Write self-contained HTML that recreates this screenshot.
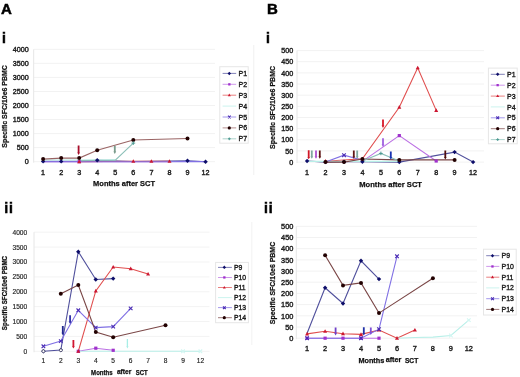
<!DOCTYPE html>
<html><head><meta charset="utf-8"><style>
html,body{margin:0;padding:0;background:#fff;}
svg .tk{stroke:#222;stroke-width:0.4px;}
svg{display:block;font-family:"Liberation Sans", sans-serif;will-change:transform;-webkit-font-smoothing:antialiased;}
</style></head><body>
<svg width="520" height="377" viewBox="0 0 520 377">
<defs><filter id="b" x="0" y="0" width="1" height="1"><feGaussianBlur stdDeviation="0.32"/></filter></defs>
<rect width="520" height="377" fill="#fff"/>
<g filter="url(#b)">
<rect width="520" height="377" fill="#fff"/>
<text x="1.0" y="13.7" font-size="15" font-weight="bold" fill="#000" stroke="#000" stroke-width="0.5">A</text>
<text x="267.0" y="14.3" font-size="15" font-weight="bold" fill="#000" stroke="#000" stroke-width="0.5">B</text>
<text x="1.9" y="42.6" font-size="14" font-weight="bold" fill="#000" stroke="#000" stroke-width="0.5">i</text>
<text x="266.0" y="42.6" font-size="14" font-weight="bold" fill="#000" stroke="#000" stroke-width="0.5">i</text>
<text x="4.2" y="213.4" font-size="14" font-weight="bold" fill="#000" stroke="#000" stroke-width="0.5" letter-spacing="0.8">ii</text>
<text x="264.0" y="213.3" font-size="14" font-weight="bold" fill="#000" stroke="#000" stroke-width="0.5" letter-spacing="0.8">ii</text>
<line x1="253.8" y1="45" x2="253.8" y2="175" stroke="#f0f0f0" stroke-width="1"/>
<line x1="251.8" y1="222" x2="251.8" y2="345" stroke="#f2f2f2" stroke-width="1"/>
<line x1="33.7" y1="161.7" x2="215.0" y2="161.7" stroke="#f2f2f2" stroke-width="1"/>
<line x1="33.7" y1="147.6" x2="215.0" y2="147.6" stroke="#f2f2f2" stroke-width="1"/>
<line x1="33.7" y1="133.6" x2="215.0" y2="133.6" stroke="#f2f2f2" stroke-width="1"/>
<line x1="33.7" y1="119.5" x2="215.0" y2="119.5" stroke="#f2f2f2" stroke-width="1"/>
<line x1="33.7" y1="105.5" x2="215.0" y2="105.5" stroke="#f2f2f2" stroke-width="1"/>
<line x1="33.7" y1="91.5" x2="215.0" y2="91.5" stroke="#f2f2f2" stroke-width="1"/>
<line x1="33.7" y1="77.4" x2="215.0" y2="77.4" stroke="#f2f2f2" stroke-width="1"/>
<line x1="33.7" y1="63.3" x2="215.0" y2="63.3" stroke="#f2f2f2" stroke-width="1"/>
<line x1="33.7" y1="49.3" x2="215.0" y2="49.3" stroke="#f2f2f2" stroke-width="1"/>
<line x1="33.7" y1="49.3" x2="33.7" y2="162.7" stroke="#e6e6e6" stroke-width="1"/>
<text x="28.8" y="164.3" font-size="7.2" text-anchor="end" fill="#1a1a1a" class="tk" style="stroke-width:0.4px">0</text>
<text x="28.8" y="150.2" font-size="7.2" text-anchor="end" fill="#1a1a1a" class="tk" style="stroke-width:0.4px">500</text>
<text x="28.8" y="136.2" font-size="7.2" text-anchor="end" fill="#1a1a1a" class="tk" style="stroke-width:0.4px">1000</text>
<text x="28.8" y="122.1" font-size="7.2" text-anchor="end" fill="#1a1a1a" class="tk" style="stroke-width:0.4px">1500</text>
<text x="28.8" y="108.1" font-size="7.2" text-anchor="end" fill="#1a1a1a" class="tk" style="stroke-width:0.4px">2000</text>
<text x="28.8" y="94.0" font-size="7.2" text-anchor="end" fill="#1a1a1a" class="tk" style="stroke-width:0.4px">2500</text>
<text x="28.8" y="80.0" font-size="7.2" text-anchor="end" fill="#1a1a1a" class="tk" style="stroke-width:0.4px">3000</text>
<text x="28.8" y="65.9" font-size="7.2" text-anchor="end" fill="#1a1a1a" class="tk" style="stroke-width:0.4px">3500</text>
<text x="28.8" y="51.9" font-size="7.2" text-anchor="end" fill="#1a1a1a" class="tk" style="stroke-width:0.4px">4000</text>
<text x="43.1" y="174.6" font-size="7.2" text-anchor="middle" fill="#1a1a1a" class="tk" style="stroke-width:0.4px">1</text>
<text x="61.2" y="174.6" font-size="7.2" text-anchor="middle" fill="#1a1a1a" class="tk" style="stroke-width:0.4px">2</text>
<text x="79.2" y="174.6" font-size="7.2" text-anchor="middle" fill="#1a1a1a" class="tk" style="stroke-width:0.4px">3</text>
<text x="97.2" y="174.6" font-size="7.2" text-anchor="middle" fill="#1a1a1a" class="tk" style="stroke-width:0.4px">4</text>
<text x="115.3" y="174.6" font-size="7.2" text-anchor="middle" fill="#1a1a1a" class="tk" style="stroke-width:0.4px">5</text>
<text x="133.3" y="174.6" font-size="7.2" text-anchor="middle" fill="#1a1a1a" class="tk" style="stroke-width:0.4px">6</text>
<text x="151.4" y="174.6" font-size="7.2" text-anchor="middle" fill="#1a1a1a" class="tk" style="stroke-width:0.4px">7</text>
<text x="169.5" y="174.6" font-size="7.2" text-anchor="middle" fill="#1a1a1a" class="tk" style="stroke-width:0.4px">8</text>
<text x="187.5" y="174.6" font-size="7.2" text-anchor="middle" fill="#1a1a1a" class="tk" style="stroke-width:0.4px">9</text>
<text x="205.6" y="174.6" font-size="7.2" text-anchor="middle" fill="#1a1a1a" class="tk" style="stroke-width:0.4px">12</text>
<text x="93.1" y="186.4" font-size="7.6" font-weight="bold" fill="#111" stroke="#111" stroke-width="0.25" textLength="61.9" lengthAdjust="spacingAndGlyphs">Months after SCT</text>
<text transform="translate(7.4,106.4) rotate(-90)" font-size="7.4" font-weight="bold" text-anchor="middle" fill="#111" stroke="#111" stroke-width="0.25" textLength="82.6" lengthAdjust="spacingAndGlyphs">Specific SFC/10e6 PBMC</text>
<path d="M43.1 161.4 L61.2 161.4 L79.2 161.4 L97.2 160.2 L133.3 161.5 L187.5 160.8 L205.6 161.7" stroke="#50509c" stroke-width="1.1" fill="none"/>
<path d="M43.1 161.7 L61.2 161.7 L79.2 161.7 L97.2 161.7 L133.3 161.7 L151.4 161.7 L169.5 161.7" stroke="#bc70e4" stroke-width="1.1" fill="none"/>
<path d="M79.2 161.7 L133.3 161.3 L151.4 161.3 L169.5 161.3" stroke="#e04e4e" stroke-width="1.1" fill="none"/>
<path d="M43.1 160.0 L61.2 160.0 L79.2 160.0 L97.2 160.0 L115.3 159.7" stroke="#b8efe8" stroke-width="1.1" fill="none"/>
<path d="M43.1 161.7 L61.2 161.7 L79.2 161.7 L97.2 161.7 L115.3 161.7 L133.3 161.7 L151.4 161.7 L169.5 161.7 L187.5 161.4 L205.6 161.6" stroke="#8070e4" stroke-width="1.1" fill="none"/>
<path d="M43.1 159.1 L61.2 158.1 L79.2 158.1 L97.2 150.3 L133.3 140.0 L187.5 138.5" stroke="#9a6464" stroke-width="1.1" fill="none"/>
<path d="M79.2 160.6 L97.2 160.2 L115.3 160.2 L133.3 143.1" stroke="#8cc0b8" stroke-width="1.1" fill="none"/>
<path d="M43.1 159.2L45.3 161.4L43.1 163.6L40.9 161.4Z" fill="#10106a"/>
<path d="M61.2 159.2L63.4 161.4L61.2 163.6L59.0 161.4Z" fill="#10106a"/>
<path d="M97.2 158.0L99.5 160.2L97.2 162.4L95.0 160.2Z" fill="#10106a"/>
<path d="M187.5 158.6L189.7 160.8L187.5 163.0L185.3 160.8Z" fill="#10106a"/>
<path d="M205.6 159.5L207.8 161.7L205.6 163.9L203.3 161.7Z" fill="#10106a"/>
<rect x="77.6" y="160.1" width="3.2" height="3.2" fill="#a030cc"/>
<path d="M79.2 159.6L81.2 163.2L77.2 163.2Z" fill="#cc1830"/>
<path d="M133.3 159.2L135.3 162.8L131.3 162.8Z" fill="#cc1830"/>
<path d="M151.4 159.2L153.4 162.8L149.4 162.8Z" fill="#cc1830"/>
<path d="M169.5 159.2L171.5 162.8L167.5 162.8Z" fill="#cc1830"/>
<circle cx="43.1" cy="159.1" r="2.0" fill="#240404"/>
<circle cx="61.2" cy="158.1" r="2.0" fill="#240404"/>
<circle cx="79.2" cy="158.1" r="2.0" fill="#240404"/>
<circle cx="97.2" cy="150.3" r="2.0" fill="#240404"/>
<circle cx="133.3" cy="140.0" r="2.0" fill="#240404"/>
<circle cx="187.5" cy="138.5" r="2.0" fill="#240404"/>
<path d="M131.5 143.1L135.2 143.1M133.3 141.3L133.3 144.9" stroke="#4a9890" stroke-width="1" fill="none"/>
<path d="M77.70 145.60L79.50 145.60L79.50 152.60L80.00 152.60L78.60 155.00L77.20 152.60L77.70 152.60Z" fill="#a8102c"/>
<path d="M113.90 145.80L115.70 145.80L115.70 151.60L116.20 151.60L114.80 154.00L113.40 151.60L113.90 151.60Z" fill="#7a9c8c"/>
<rect x="219.8" y="66.7" width="28.4" height="76.5" fill="#fff" stroke="#e6e6e6" stroke-width="1"/>
<line x1="222.6" y1="73.4" x2="236.2" y2="73.4" stroke="#50509c" stroke-width="0.9" stroke-opacity="0.8"/>
<path d="M229.3 71.7L231.1 73.4L229.3 75.2L227.6 73.4Z" fill="#10106a"/>
<text x="238.6" y="75.9" font-size="7.0" font-weight="normal" fill="#1a1a1a" stroke="#1a1a1a" stroke-width="0.35">P1</text>
<line x1="222.6" y1="84.3" x2="236.2" y2="84.3" stroke="#bc70e4" stroke-width="0.9" stroke-opacity="0.8"/>
<rect x="228.2" y="83.2" width="2.3" height="2.3" fill="#a030cc"/>
<text x="238.6" y="86.8" font-size="7.0" font-weight="normal" fill="#1a1a1a" stroke="#1a1a1a" stroke-width="0.35">P2</text>
<line x1="222.6" y1="95.2" x2="236.2" y2="95.2" stroke="#e04e4e" stroke-width="0.9" stroke-opacity="0.8"/>
<path d="M229.3 93.6L230.8 96.2L227.8 96.2Z" fill="#cc1830"/>
<text x="238.6" y="97.7" font-size="7.0" font-weight="normal" fill="#1a1a1a" stroke="#1a1a1a" stroke-width="0.35">P3</text>
<line x1="222.6" y1="106.1" x2="236.2" y2="106.1" stroke="#b8efe8" stroke-width="0.9" stroke-opacity="0.8"/>
<text x="238.6" y="108.6" font-size="7.0" font-weight="normal" fill="#1a1a1a" stroke="#1a1a1a" stroke-width="0.35">P4</text>
<line x1="222.6" y1="117.0" x2="236.2" y2="117.0" stroke="#8070e4" stroke-width="0.9" stroke-opacity="0.8"/>
<path d="M228.0 115.7L230.7 118.3M230.7 115.7L228.0 118.3" stroke="#4a2cb4" stroke-width="1.1" fill="none"/>
<text x="238.6" y="119.5" font-size="7.0" font-weight="normal" fill="#1a1a1a" stroke="#1a1a1a" stroke-width="0.35">P5</text>
<line x1="222.6" y1="127.9" x2="236.2" y2="127.9" stroke="#9a6464" stroke-width="0.9" stroke-opacity="0.8"/>
<circle cx="229.3" cy="127.9" r="1.6" fill="#240404"/>
<text x="238.6" y="130.4" font-size="7.0" font-weight="normal" fill="#1a1a1a" stroke="#1a1a1a" stroke-width="0.35">P6</text>
<line x1="222.6" y1="138.8" x2="236.2" y2="138.8" stroke="#8cc0b8" stroke-width="0.9" stroke-opacity="0.8"/>
<path d="M228.0 138.8L230.7 138.8M229.3 137.5L229.3 140.2" stroke="#4a9890" stroke-width="1" fill="none"/>
<text x="238.6" y="141.3" font-size="7.0" font-weight="normal" fill="#1a1a1a" stroke="#1a1a1a" stroke-width="0.35">P7</text>
<line x1="297.0" y1="162.1" x2="484.0" y2="162.1" stroke="#f2f2f2" stroke-width="1"/>
<line x1="297.0" y1="150.9" x2="484.0" y2="150.9" stroke="#f2f2f2" stroke-width="1"/>
<line x1="297.0" y1="139.8" x2="484.0" y2="139.8" stroke="#f2f2f2" stroke-width="1"/>
<line x1="297.0" y1="128.6" x2="484.0" y2="128.6" stroke="#f2f2f2" stroke-width="1"/>
<line x1="297.0" y1="117.5" x2="484.0" y2="117.5" stroke="#f2f2f2" stroke-width="1"/>
<line x1="297.0" y1="106.3" x2="484.0" y2="106.3" stroke="#f2f2f2" stroke-width="1"/>
<line x1="297.0" y1="95.2" x2="484.0" y2="95.2" stroke="#f2f2f2" stroke-width="1"/>
<line x1="297.0" y1="84.0" x2="484.0" y2="84.0" stroke="#f2f2f2" stroke-width="1"/>
<line x1="297.0" y1="72.9" x2="484.0" y2="72.9" stroke="#f2f2f2" stroke-width="1"/>
<line x1="297.0" y1="61.7" x2="484.0" y2="61.7" stroke="#f2f2f2" stroke-width="1"/>
<line x1="297.0" y1="50.6" x2="484.0" y2="50.6" stroke="#f2f2f2" stroke-width="1"/>
<line x1="297.0" y1="50.6" x2="297.0" y2="163.1" stroke="#e6e6e6" stroke-width="1"/>
<text x="293.2" y="164.7" font-size="7.2" text-anchor="end" fill="#1a1a1a" class="tk" style="stroke-width:0.4px">0</text>
<text x="293.2" y="153.5" font-size="7.2" text-anchor="end" fill="#1a1a1a" class="tk" style="stroke-width:0.4px">50</text>
<text x="293.2" y="142.4" font-size="7.2" text-anchor="end" fill="#1a1a1a" class="tk" style="stroke-width:0.4px">100</text>
<text x="293.2" y="131.2" font-size="7.2" text-anchor="end" fill="#1a1a1a" class="tk" style="stroke-width:0.4px">150</text>
<text x="293.2" y="120.1" font-size="7.2" text-anchor="end" fill="#1a1a1a" class="tk" style="stroke-width:0.4px">200</text>
<text x="293.2" y="108.9" font-size="7.2" text-anchor="end" fill="#1a1a1a" class="tk" style="stroke-width:0.4px">250</text>
<text x="293.2" y="97.8" font-size="7.2" text-anchor="end" fill="#1a1a1a" class="tk" style="stroke-width:0.4px">300</text>
<text x="293.2" y="86.6" font-size="7.2" text-anchor="end" fill="#1a1a1a" class="tk" style="stroke-width:0.4px">350</text>
<text x="293.2" y="75.5" font-size="7.2" text-anchor="end" fill="#1a1a1a" class="tk" style="stroke-width:0.4px">400</text>
<text x="293.2" y="64.3" font-size="7.2" text-anchor="end" fill="#1a1a1a" class="tk" style="stroke-width:0.4px">450</text>
<text x="293.2" y="53.2" font-size="7.2" text-anchor="end" fill="#1a1a1a" class="tk" style="stroke-width:0.4px">500</text>
<text x="307.1" y="174.7" font-size="7.2" text-anchor="middle" fill="#1a1a1a" class="tk" style="stroke-width:0.4px">1</text>
<text x="325.5" y="174.7" font-size="7.2" text-anchor="middle" fill="#1a1a1a" class="tk" style="stroke-width:0.4px">2</text>
<text x="344.0" y="174.7" font-size="7.2" text-anchor="middle" fill="#1a1a1a" class="tk" style="stroke-width:0.4px">3</text>
<text x="362.4" y="174.7" font-size="7.2" text-anchor="middle" fill="#1a1a1a" class="tk" style="stroke-width:0.4px">4</text>
<text x="380.9" y="174.7" font-size="7.2" text-anchor="middle" fill="#1a1a1a" class="tk" style="stroke-width:0.4px">5</text>
<text x="399.3" y="174.7" font-size="7.2" text-anchor="middle" fill="#1a1a1a" class="tk" style="stroke-width:0.4px">6</text>
<text x="417.7" y="174.7" font-size="7.2" text-anchor="middle" fill="#1a1a1a" class="tk" style="stroke-width:0.4px">7</text>
<text x="436.2" y="174.7" font-size="7.2" text-anchor="middle" fill="#1a1a1a" class="tk" style="stroke-width:0.4px">8</text>
<text x="454.6" y="174.7" font-size="7.2" text-anchor="middle" fill="#1a1a1a" class="tk" style="stroke-width:0.4px">9</text>
<text x="473.1" y="174.7" font-size="7.2" text-anchor="middle" fill="#1a1a1a" class="tk" style="stroke-width:0.4px">12</text>
<text x="359.3" y="187.0" font-size="7.5" font-weight="bold" fill="#111" stroke="#111" stroke-width="0.25" textLength="62.7" lengthAdjust="spacingAndGlyphs">Months after SCT</text>
<text transform="translate(275.0,107.4) rotate(-90)" font-size="7.4" font-weight="bold" text-anchor="middle" fill="#111" stroke="#111" stroke-width="0.25" textLength="83" lengthAdjust="spacingAndGlyphs">Specific SFC/10e6 PBMC</text>
<path d="M307.1 161.0 L325.5 162.1 L344.0 161.7 L362.4 161.7 L399.3 162.1 L454.6 152.1 L473.1 162.1" stroke="#50509c" stroke-width="1.1" fill="none"/>
<path d="M362.4 161.4 L399.3 135.6 L436.2 161.0" stroke="#bc70e4" stroke-width="1.1" fill="none"/>
<path d="M325.5 161.2 L362.4 158.8 L399.3 107.2 L417.7 67.8 L436.2 110.4" stroke="#e04e4e" stroke-width="1.1" fill="none"/>
<path d="M307.1 161.4 L325.5 161.4 L344.0 161.4 L362.4 161.4 L380.9 161.4 L399.3 161.4" stroke="#b8efe8" stroke-width="1.1" fill="none"/>
<path d="M325.5 162.1 L344.0 155.2 L362.4 160.3" stroke="#8070e4" stroke-width="1.1" fill="none"/>
<path d="M325.5 162.1 L344.0 162.1 L362.4 159.0 L399.3 159.9 L454.6 159.9" stroke="#7a4646" stroke-width="1.1" fill="none"/>
<path d="M362.4 161.0 L380.9 153.4 L399.3 161.0" stroke="#8cc0b8" stroke-width="1.1" fill="none"/>
<path d="M307.1 158.8L309.3 161.0L307.1 163.2L304.9 161.0Z" fill="#10106a"/>
<path d="M325.5 159.9L327.7 162.1L325.5 164.3L323.3 162.1Z" fill="#10106a"/>
<path d="M344.0 159.5L346.2 161.7L344.0 163.9L341.8 161.7Z" fill="#10106a"/>
<path d="M362.4 159.5L364.6 161.7L362.4 163.9L360.2 161.7Z" fill="#10106a"/>
<path d="M399.3 159.9L401.5 162.1L399.3 164.3L397.1 162.1Z" fill="#10106a"/>
<path d="M454.6 149.9L456.8 152.1L454.6 154.3L452.4 152.1Z" fill="#10106a"/>
<path d="M473.1 159.9L475.3 162.1L473.1 164.3L470.9 162.1Z" fill="#10106a"/>
<rect x="397.7" y="134.0" width="3.2" height="3.2" fill="#a030cc"/>
<rect x="434.6" y="159.4" width="3.2" height="3.2" fill="#a030cc"/>
<path d="M325.5 159.1L327.5 162.7L323.5 162.7Z" fill="#cc1830"/>
<path d="M362.4 156.7L364.4 160.3L360.4 160.3Z" fill="#cc1830"/>
<path d="M399.3 105.1L401.3 108.7L397.3 108.7Z" fill="#cc1830"/>
<path d="M417.7 65.7L419.7 69.3L415.7 69.3Z" fill="#cc1830"/>
<path d="M436.2 108.3L438.2 111.9L434.2 111.9Z" fill="#cc1830"/>
<path d="M342.2 153.4L345.8 157.0M345.8 153.4L342.2 157.0" stroke="#4a2cb4" stroke-width="1.1" fill="none"/>
<circle cx="325.5" cy="162.1" r="2.0" fill="#240404"/>
<circle cx="344.0" cy="162.1" r="2.0" fill="#240404"/>
<circle cx="362.4" cy="159.0" r="2.0" fill="#240404"/>
<circle cx="399.3" cy="159.9" r="2.0" fill="#240404"/>
<circle cx="454.6" cy="159.9" r="2.0" fill="#240404"/>
<path d="M379.1 153.4L382.7 153.4M380.9 151.6L380.9 155.2" stroke="#4a9890" stroke-width="1" fill="none"/>
<path d="M307.80 150.30L309.60 150.30L309.60 156.90L310.10 156.90L308.70 159.30L307.30 156.90L307.80 156.90Z" fill="#d01828"/>
<path d="M310.90 150.50L312.70 150.50L312.70 156.40L313.20 156.40L311.80 158.80L310.40 156.40L310.90 156.40Z" fill="#80a8a0"/>
<path d="M315.10 150.50L316.90 150.50L316.90 156.40L317.40 156.40L316.00 158.80L314.60 156.40L315.10 156.40Z" fill="#b050d0"/>
<path d="M318.90 150.50L320.70 150.50L320.70 156.40L321.20 156.40L319.80 158.80L318.40 156.40L318.90 156.40Z" fill="#601818"/>
<path d="M352.90 150.50L354.70 150.50L354.70 156.40L355.20 156.40L353.80 158.80L352.40 156.40L352.90 156.40Z" fill="#601818"/>
<path d="M356.30 150.50L358.10 150.50L358.10 156.40L358.60 156.40L357.20 158.80L355.80 156.40L356.30 156.40Z" fill="#80a8a0"/>
<path d="M382.10 119.40L383.90 119.40L383.90 125.60L384.40 125.60L383.00 128.00L381.60 125.60L382.10 125.60Z" fill="#d81828"/>
<path d="M382.10 138.20L383.90 138.20L383.90 144.60L384.40 144.60L383.00 147.00L381.60 144.60L382.10 144.60Z" fill="#a060e0"/>
<path d="M389.90 151.40L391.70 151.40L391.70 157.20L392.20 157.20L390.80 159.60L389.40 157.20L389.90 157.20Z" fill="#1830b0"/>
<path d="M444.40 150.50L446.20 150.50L446.20 157.00L446.70 157.00L445.30 159.40L443.90 157.00L444.40 157.00Z" fill="#501010"/>
<rect x="488.4" y="68.1" width="28.8" height="75.7" fill="#fff" stroke="#e6e6e6" stroke-width="1"/>
<line x1="490.8" y1="74.3" x2="504.8" y2="74.3" stroke="#50509c" stroke-width="0.9" stroke-opacity="0.8"/>
<path d="M497.7 72.5L499.4 74.3L497.7 76.0L495.9 74.3Z" fill="#10106a"/>
<text x="507.0" y="76.8" font-size="7.0" font-weight="normal" fill="#1a1a1a" stroke="#1a1a1a" stroke-width="0.35">P1</text>
<line x1="490.8" y1="85.2" x2="504.8" y2="85.2" stroke="#bc70e4" stroke-width="0.9" stroke-opacity="0.8"/>
<rect x="496.5" y="84.0" width="2.3" height="2.3" fill="#a030cc"/>
<text x="507.0" y="87.7" font-size="7.0" font-weight="normal" fill="#1a1a1a" stroke="#1a1a1a" stroke-width="0.35">P2</text>
<line x1="490.8" y1="96.1" x2="504.8" y2="96.1" stroke="#e04e4e" stroke-width="0.9" stroke-opacity="0.8"/>
<path d="M497.7 94.4L499.2 97.1L496.1 97.1Z" fill="#cc1830"/>
<text x="507.0" y="98.6" font-size="7.0" font-weight="normal" fill="#1a1a1a" stroke="#1a1a1a" stroke-width="0.35">P3</text>
<line x1="490.8" y1="106.9" x2="504.8" y2="106.9" stroke="#b8efe8" stroke-width="0.9" stroke-opacity="0.8"/>
<text x="507.0" y="109.5" font-size="7.0" font-weight="normal" fill="#1a1a1a" stroke="#1a1a1a" stroke-width="0.35">P4</text>
<line x1="490.8" y1="117.8" x2="504.8" y2="117.8" stroke="#8070e4" stroke-width="0.9" stroke-opacity="0.8"/>
<path d="M496.3 116.5L499.1 119.2M499.1 116.5L496.3 119.2" stroke="#4a2cb4" stroke-width="1.1" fill="none"/>
<text x="507.0" y="120.3" font-size="7.0" font-weight="normal" fill="#1a1a1a" stroke="#1a1a1a" stroke-width="0.35">P5</text>
<line x1="490.8" y1="128.7" x2="504.8" y2="128.7" stroke="#7a4646" stroke-width="0.9" stroke-opacity="0.8"/>
<circle cx="497.7" cy="128.7" r="1.6" fill="#240404"/>
<text x="507.0" y="131.2" font-size="7.0" font-weight="normal" fill="#1a1a1a" stroke="#1a1a1a" stroke-width="0.35">P6</text>
<line x1="490.8" y1="139.6" x2="504.8" y2="139.6" stroke="#8cc0b8" stroke-width="0.9" stroke-opacity="0.8"/>
<path d="M496.3 139.6L499.1 139.6M497.7 138.2L497.7 140.9" stroke="#4a9890" stroke-width="1" fill="none"/>
<text x="507.0" y="142.1" font-size="7.0" font-weight="normal" fill="#1a1a1a" stroke="#1a1a1a" stroke-width="0.35">P7</text>
<line x1="34.0" y1="351.3" x2="209.5" y2="351.3" stroke="#f3f3f3" stroke-width="1"/>
<line x1="34.0" y1="336.4" x2="209.5" y2="336.4" stroke="#f3f3f3" stroke-width="1"/>
<line x1="34.0" y1="321.5" x2="209.5" y2="321.5" stroke="#f3f3f3" stroke-width="1"/>
<line x1="34.0" y1="306.6" x2="209.5" y2="306.6" stroke="#f3f3f3" stroke-width="1"/>
<line x1="34.0" y1="291.8" x2="209.5" y2="291.8" stroke="#f3f3f3" stroke-width="1"/>
<line x1="34.0" y1="276.9" x2="209.5" y2="276.9" stroke="#f3f3f3" stroke-width="1"/>
<line x1="34.0" y1="262.0" x2="209.5" y2="262.0" stroke="#f3f3f3" stroke-width="1"/>
<line x1="34.0" y1="247.1" x2="209.5" y2="247.1" stroke="#f3f3f3" stroke-width="1"/>
<line x1="34.0" y1="232.2" x2="209.5" y2="232.2" stroke="#f3f3f3" stroke-width="1"/>
<line x1="34.0" y1="232.2" x2="34.0" y2="352.3" stroke="#e6e6e6" stroke-width="1"/>
<text x="27.2" y="353.7" font-size="6.6" text-anchor="end" fill="#1a1a1a" class="tk" style="stroke-width:0.15px">0</text>
<text x="27.2" y="338.8" font-size="6.6" text-anchor="end" fill="#1a1a1a" class="tk" style="stroke-width:0.15px">500</text>
<text x="27.2" y="323.9" font-size="6.6" text-anchor="end" fill="#1a1a1a" class="tk" style="stroke-width:0.15px">1000</text>
<text x="27.2" y="309.0" font-size="6.6" text-anchor="end" fill="#1a1a1a" class="tk" style="stroke-width:0.15px">1500</text>
<text x="27.2" y="294.1" font-size="6.6" text-anchor="end" fill="#1a1a1a" class="tk" style="stroke-width:0.15px">2000</text>
<text x="27.2" y="279.2" font-size="6.6" text-anchor="end" fill="#1a1a1a" class="tk" style="stroke-width:0.15px">2500</text>
<text x="27.2" y="264.4" font-size="6.6" text-anchor="end" fill="#1a1a1a" class="tk" style="stroke-width:0.15px">3000</text>
<text x="27.2" y="249.5" font-size="6.6" text-anchor="end" fill="#1a1a1a" class="tk" style="stroke-width:0.15px">3500</text>
<text x="27.2" y="234.6" font-size="6.6" text-anchor="end" fill="#1a1a1a" class="tk" style="stroke-width:0.15px">4000</text>
<text x="43.4" y="363.4" font-size="6.6" text-anchor="middle" fill="#1a1a1a" class="tk" style="stroke-width:0.15px">1</text>
<text x="60.8" y="363.4" font-size="6.6" text-anchor="middle" fill="#1a1a1a" class="tk" style="stroke-width:0.15px">2</text>
<text x="78.3" y="363.4" font-size="6.6" text-anchor="middle" fill="#1a1a1a" class="tk" style="stroke-width:0.15px">3</text>
<text x="95.8" y="363.4" font-size="6.6" text-anchor="middle" fill="#1a1a1a" class="tk" style="stroke-width:0.15px">4</text>
<text x="113.2" y="363.4" font-size="6.6" text-anchor="middle" fill="#1a1a1a" class="tk" style="stroke-width:0.15px">5</text>
<text x="130.7" y="363.4" font-size="6.6" text-anchor="middle" fill="#1a1a1a" class="tk" style="stroke-width:0.15px">6</text>
<text x="148.1" y="363.4" font-size="6.6" text-anchor="middle" fill="#1a1a1a" class="tk" style="stroke-width:0.15px">7</text>
<text x="165.5" y="363.4" font-size="6.6" text-anchor="middle" fill="#1a1a1a" class="tk" style="stroke-width:0.15px">8</text>
<text x="183.0" y="363.4" font-size="6.6" text-anchor="middle" fill="#1a1a1a" class="tk" style="stroke-width:0.15px">9</text>
<text x="200.4" y="363.4" font-size="6.6" text-anchor="middle" fill="#1a1a1a" class="tk" style="stroke-width:0.15px">12</text>
<text x="91.1" y="374.7" font-size="6.6" font-weight="bold" fill="#111" stroke="#111" stroke-width="0.25" textLength="21.5" lengthAdjust="spacingAndGlyphs">Months</text><text x="116.9" y="373.7" font-size="6.6" font-weight="bold" fill="#111" stroke="#111" stroke-width="0.25" textLength="14.4" lengthAdjust="spacingAndGlyphs">after</text><text x="135.8" y="374.7" font-size="6.6" font-weight="bold" fill="#111" stroke="#111" stroke-width="0.25" textLength="11.9" lengthAdjust="spacingAndGlyphs">SCT</text>
<text transform="translate(6.9,293.0) rotate(-90)" font-size="6.4" font-weight="bold" text-anchor="middle" fill="#111" stroke="#111" stroke-width="0.25" textLength="74.3" lengthAdjust="spacingAndGlyphs">Specific SFC/10e6 PBMC</text>
<path d="M43.4 351.3 L60.8 350.1 L78.3 251.7 L95.8 279.5 L113.2 278.6" stroke="#50509c" stroke-width="1.1" fill="none"/>
<path d="M78.3 351.3 L95.8 348.2 L113.2 350.3" stroke="#bc70e4" stroke-width="1.1" fill="none"/>
<path d="M78.3 351.3 L95.8 290.9 L113.2 267.0 L130.7 268.7 L148.1 274.0" stroke="#e04e4e" stroke-width="1.1" fill="none"/>
<path d="M78.3 351.3 L95.8 351.3 L113.2 351.3 L130.7 351.3 L148.1 351.3 L165.5 351.3 L183.0 351.3 L200.4 351.3" stroke="#b8efe8" stroke-width="1.1" fill="none"/>
<path d="M43.4 346.3 L60.8 341.1 L78.3 310.3 L95.8 327.6 L113.2 326.6 L130.7 308.4" stroke="#8070e4" stroke-width="1.1" fill="none"/>
<path d="M60.8 293.7 L78.3 285.0 L95.8 332.0 L113.2 337.2 L165.5 325.3" stroke="#7a4646" stroke-width="1.1" fill="none"/>
<path d="M43.4 349.1L45.6 351.3L43.4 353.5L41.2 351.3Z" fill="#10106a"/>
<path d="M60.8 347.9L63.0 350.1L60.8 352.3L58.6 350.1Z" fill="#10106a"/>
<path d="M78.3 249.5L80.5 251.7L78.3 253.9L76.1 251.7Z" fill="#10106a"/>
<path d="M95.8 277.3L98.0 279.5L95.8 281.7L93.5 279.5Z" fill="#10106a"/>
<path d="M113.2 276.4L115.4 278.6L113.2 280.8L111.0 278.6Z" fill="#10106a"/>
<rect x="76.7" y="349.7" width="3.2" height="3.2" fill="#a030cc"/>
<rect x="94.2" y="346.6" width="3.2" height="3.2" fill="#a030cc"/>
<rect x="111.6" y="348.7" width="3.2" height="3.2" fill="#a030cc"/>
<path d="M78.3 349.2L80.3 352.8L76.3 352.8Z" fill="#cc1830"/>
<path d="M95.8 288.8L97.8 292.4L93.8 292.4Z" fill="#cc1830"/>
<path d="M113.2 264.9L115.2 268.5L111.2 268.5Z" fill="#cc1830"/>
<path d="M130.7 266.6L132.7 270.2L128.7 270.2Z" fill="#cc1830"/>
<path d="M148.1 271.9L150.1 275.5L146.1 275.5Z" fill="#cc1830"/>
<path d="M181.2 349.5L184.8 353.1M184.8 349.5L181.2 353.1" stroke="#d2f6f2" stroke-width="1.1" fill="none"/>
<path d="M198.6 349.5L202.2 353.1M202.2 349.5L198.6 353.1" stroke="#d2f6f2" stroke-width="1.1" fill="none"/>
<path d="M41.6 344.5L45.2 348.1M45.2 344.5L41.6 348.1" stroke="#4a2cb4" stroke-width="1.1" fill="none"/>
<path d="M59.0 339.3L62.6 342.9M62.6 339.3L59.0 342.9" stroke="#4a2cb4" stroke-width="1.1" fill="none"/>
<path d="M76.5 308.5L80.1 312.1M80.1 308.5L76.5 312.1" stroke="#4a2cb4" stroke-width="1.1" fill="none"/>
<path d="M94.0 325.8L97.5 329.4M97.5 325.8L94.0 329.4" stroke="#4a2cb4" stroke-width="1.1" fill="none"/>
<path d="M111.4 324.8L115.0 328.4M115.0 324.8L111.4 328.4" stroke="#4a2cb4" stroke-width="1.1" fill="none"/>
<path d="M128.8 306.6L132.5 310.2M132.5 306.6L128.8 310.2" stroke="#4a2cb4" stroke-width="1.1" fill="none"/>
<circle cx="60.8" cy="293.7" r="2.0" fill="#240404"/>
<circle cx="78.3" cy="285.0" r="2.0" fill="#240404"/>
<circle cx="95.8" cy="332.0" r="2.0" fill="#240404"/>
<circle cx="113.2" cy="337.2" r="2.0" fill="#240404"/>
<circle cx="165.5" cy="325.3" r="2.0" fill="#240404"/>
<circle cx="43.4" cy="351.2" r="1.5" fill="#fff" stroke="#505070" stroke-width="0.9"/>
<circle cx="60.9" cy="350.2" r="1.5" fill="#fff" stroke="#505070" stroke-width="0.9"/>
<path d="M61.90 326.00L63.70 326.00L63.70 332.80L64.20 332.80L62.80 335.20L61.40 332.80L61.90 332.80Z" fill="#202890"/>
<path d="M69.20 315.20L71.00 315.20L71.00 321.60L71.50 321.60L70.10 324.00L68.70 321.60L69.20 321.60Z" fill="#3030a8"/>
<path d="M72.50 340.00L74.30 340.00L74.30 346.20L74.80 346.20L73.40 348.60L72.00 346.20L72.50 346.20Z" fill="#d01830"/>
<path d="M126.75 339.00L128.05 339.00L128.05 346.20L128.55 346.20L127.40 348.60L126.25 346.20L126.75 346.20Z" fill="#a8eee6"/>
<rect x="215.6" y="262.4" width="32.8" height="60.3" fill="#fff" stroke="#e6e6e6" stroke-width="1"/>
<line x1="218.0" y1="267.4" x2="231.9" y2="267.4" stroke="#50509c" stroke-width="0.9" stroke-opacity="0.8"/>
<path d="M224.3 265.6L226.1 267.4L224.3 269.1L222.6 267.4Z" fill="#10106a"/>
<text x="233.9" y="269.8" font-size="6.8" font-weight="normal" fill="#1a1a1a" stroke="#1a1a1a" stroke-width="0.35">P9</text>
<line x1="218.0" y1="277.5" x2="231.9" y2="277.5" stroke="#bc70e4" stroke-width="0.9" stroke-opacity="0.8"/>
<rect x="223.2" y="276.3" width="2.3" height="2.3" fill="#a030cc"/>
<text x="233.9" y="279.9" font-size="6.8" font-weight="normal" fill="#1a1a1a" stroke="#1a1a1a" stroke-width="0.35">P10</text>
<line x1="218.0" y1="287.5" x2="231.9" y2="287.5" stroke="#e04e4e" stroke-width="0.9" stroke-opacity="0.8"/>
<path d="M224.3 285.9L225.8 288.6L222.8 288.6Z" fill="#cc1830"/>
<text x="233.9" y="290.0" font-size="6.8" font-weight="normal" fill="#1a1a1a" stroke="#1a1a1a" stroke-width="0.35">P11</text>
<line x1="218.0" y1="297.6" x2="231.9" y2="297.6" stroke="#b8efe8" stroke-width="0.9" stroke-opacity="0.8"/>
<text x="233.9" y="300.0" font-size="6.8" font-weight="normal" fill="#1a1a1a" stroke="#1a1a1a" stroke-width="0.35">P12</text>
<line x1="218.0" y1="307.6" x2="231.9" y2="307.6" stroke="#8070e4" stroke-width="0.9" stroke-opacity="0.8"/>
<path d="M223.0 306.3L225.7 309.0M225.7 306.3L223.0 309.0" stroke="#4a2cb4" stroke-width="1.1" fill="none"/>
<text x="233.9" y="310.1" font-size="6.8" font-weight="normal" fill="#1a1a1a" stroke="#1a1a1a" stroke-width="0.35">P13</text>
<line x1="218.0" y1="317.7" x2="231.9" y2="317.7" stroke="#7a4646" stroke-width="0.9" stroke-opacity="0.8"/>
<circle cx="224.3" cy="317.7" r="1.6" fill="#240404"/>
<text x="233.9" y="320.1" font-size="6.8" font-weight="normal" fill="#1a1a1a" stroke="#1a1a1a" stroke-width="0.35">P14</text>
<line x1="296.3" y1="338.2" x2="477.0" y2="338.2" stroke="#f2f2f2" stroke-width="1"/>
<line x1="296.3" y1="327.0" x2="477.0" y2="327.0" stroke="#f2f2f2" stroke-width="1"/>
<line x1="296.3" y1="315.8" x2="477.0" y2="315.8" stroke="#f2f2f2" stroke-width="1"/>
<line x1="296.3" y1="304.6" x2="477.0" y2="304.6" stroke="#f2f2f2" stroke-width="1"/>
<line x1="296.3" y1="293.4" x2="477.0" y2="293.4" stroke="#f2f2f2" stroke-width="1"/>
<line x1="296.3" y1="282.2" x2="477.0" y2="282.2" stroke="#f2f2f2" stroke-width="1"/>
<line x1="296.3" y1="271.1" x2="477.0" y2="271.1" stroke="#f2f2f2" stroke-width="1"/>
<line x1="296.3" y1="259.9" x2="477.0" y2="259.9" stroke="#f2f2f2" stroke-width="1"/>
<line x1="296.3" y1="248.7" x2="477.0" y2="248.7" stroke="#f2f2f2" stroke-width="1"/>
<line x1="296.3" y1="237.5" x2="477.0" y2="237.5" stroke="#f2f2f2" stroke-width="1"/>
<line x1="296.3" y1="226.3" x2="477.0" y2="226.3" stroke="#f2f2f2" stroke-width="1"/>
<line x1="296.3" y1="226.3" x2="296.3" y2="339.2" stroke="#e6e6e6" stroke-width="1"/>
<text x="293.4" y="340.9" font-size="7.4" text-anchor="end" fill="#1a1a1a" class="tk" style="stroke-width:0.4px">0</text>
<text x="293.4" y="329.7" font-size="7.4" text-anchor="end" fill="#1a1a1a" class="tk" style="stroke-width:0.4px">50</text>
<text x="293.4" y="318.5" font-size="7.4" text-anchor="end" fill="#1a1a1a" class="tk" style="stroke-width:0.4px">100</text>
<text x="293.4" y="307.3" font-size="7.4" text-anchor="end" fill="#1a1a1a" class="tk" style="stroke-width:0.4px">150</text>
<text x="293.4" y="296.1" font-size="7.4" text-anchor="end" fill="#1a1a1a" class="tk" style="stroke-width:0.4px">200</text>
<text x="293.4" y="284.9" font-size="7.4" text-anchor="end" fill="#1a1a1a" class="tk" style="stroke-width:0.4px">250</text>
<text x="293.4" y="273.7" font-size="7.4" text-anchor="end" fill="#1a1a1a" class="tk" style="stroke-width:0.4px">300</text>
<text x="293.4" y="262.5" font-size="7.4" text-anchor="end" fill="#1a1a1a" class="tk" style="stroke-width:0.4px">350</text>
<text x="293.4" y="251.3" font-size="7.4" text-anchor="end" fill="#1a1a1a" class="tk" style="stroke-width:0.4px">400</text>
<text x="293.4" y="240.2" font-size="7.4" text-anchor="end" fill="#1a1a1a" class="tk" style="stroke-width:0.4px">450</text>
<text x="293.4" y="229.0" font-size="7.4" text-anchor="end" fill="#1a1a1a" class="tk" style="stroke-width:0.4px">500</text>
<text x="307.1" y="350.9" font-size="7.4" text-anchor="middle" fill="#1a1a1a" class="tk" style="stroke-width:0.4px">1</text>
<text x="325.1" y="350.9" font-size="7.4" text-anchor="middle" fill="#1a1a1a" class="tk" style="stroke-width:0.4px">2</text>
<text x="343.0" y="350.9" font-size="7.4" text-anchor="middle" fill="#1a1a1a" class="tk" style="stroke-width:0.4px">3</text>
<text x="361.0" y="350.9" font-size="7.4" text-anchor="middle" fill="#1a1a1a" class="tk" style="stroke-width:0.4px">4</text>
<text x="379.0" y="350.9" font-size="7.4" text-anchor="middle" fill="#1a1a1a" class="tk" style="stroke-width:0.4px">5</text>
<text x="397.0" y="350.9" font-size="7.4" text-anchor="middle" fill="#1a1a1a" class="tk" style="stroke-width:0.4px">6</text>
<text x="414.9" y="350.9" font-size="7.4" text-anchor="middle" fill="#1a1a1a" class="tk" style="stroke-width:0.4px">7</text>
<text x="432.9" y="350.9" font-size="7.4" text-anchor="middle" fill="#1a1a1a" class="tk" style="stroke-width:0.4px">8</text>
<text x="450.9" y="350.9" font-size="7.4" text-anchor="middle" fill="#1a1a1a" class="tk" style="stroke-width:0.4px">9</text>
<text x="468.8" y="350.9" font-size="7.4" text-anchor="middle" fill="#1a1a1a" class="tk" style="stroke-width:0.4px">12</text>
<text x="358.4" y="362.8" font-size="7.2" font-weight="bold" fill="#111" stroke="#111" stroke-width="0.25" textLength="25.9" lengthAdjust="spacingAndGlyphs">Months</text><text x="385.7" y="362.4" font-size="7.2" font-weight="bold" fill="#111" stroke="#111" stroke-width="0.25" textLength="15.7" lengthAdjust="spacingAndGlyphs">after</text><text x="404.9" y="362.8" font-size="7.2" font-weight="bold" fill="#111" stroke="#111" stroke-width="0.25" textLength="13.3" lengthAdjust="spacingAndGlyphs">SCT</text>
<text transform="translate(275.2,283.0) rotate(-90)" font-size="7.4" font-weight="bold" text-anchor="middle" fill="#111" stroke="#111" stroke-width="0.25" textLength="82.4" lengthAdjust="spacingAndGlyphs">Specific SFC/10e6 PBMC</text>
<path d="M307.1 333.3 L325.1 287.8 L343.0 303.5 L361.0 260.8 L379.0 279.1" stroke="#50509c" stroke-width="1.1" fill="none"/>
<path d="M307.1 338.2 L325.1 338.2 L343.0 338.2 L361.0 338.2 L379.0 338.2" stroke="#bc70e4" stroke-width="1.1" fill="none"/>
<path d="M307.1 333.9 L325.1 331.3 L343.0 333.7 L361.0 334.4 L379.0 330.1 L397.0 338.2 L414.9 330.1" stroke="#e04e4e" stroke-width="1.1" fill="none"/>
<path d="M397.0 338.2 L414.9 337.5 L432.9 337.1 L450.9 335.5 L468.8 320.1" stroke="#b8efe8" stroke-width="1.1" fill="none"/>
<path d="M307.1 338.2 L361.0 338.2 L379.0 329.2 L397.0 256.3" stroke="#8070e4" stroke-width="1.1" fill="none"/>
<path d="M325.1 255.2 L343.0 285.4 L361.0 282.9 L379.0 313.1 L432.9 278.2" stroke="#7a4646" stroke-width="1.1" fill="none"/>
<path d="M325.1 285.6L327.3 287.8L325.1 290.0L322.9 287.8Z" fill="#10106a"/>
<path d="M343.0 301.3L345.2 303.5L343.0 305.7L340.8 303.5Z" fill="#10106a"/>
<path d="M361.0 258.6L363.2 260.8L361.0 263.0L358.8 260.8Z" fill="#10106a"/>
<path d="M379.0 276.9L381.2 279.1L379.0 281.3L376.8 279.1Z" fill="#10106a"/>
<rect x="305.5" y="336.6" width="3.2" height="3.2" fill="#a030cc"/>
<rect x="323.5" y="336.6" width="3.2" height="3.2" fill="#a030cc"/>
<rect x="341.4" y="336.6" width="3.2" height="3.2" fill="#a030cc"/>
<rect x="359.4" y="336.6" width="3.2" height="3.2" fill="#a030cc"/>
<rect x="377.4" y="336.6" width="3.2" height="3.2" fill="#a030cc"/>
<path d="M307.1 331.8L309.1 335.4L305.1 335.4Z" fill="#cc1830"/>
<path d="M325.1 329.2L327.1 332.8L323.1 332.8Z" fill="#cc1830"/>
<path d="M343.0 331.6L345.0 335.2L341.0 335.2Z" fill="#cc1830"/>
<path d="M361.0 332.3L363.0 335.9L359.0 335.9Z" fill="#cc1830"/>
<path d="M379.0 328.0L381.0 331.6L377.0 331.6Z" fill="#cc1830"/>
<path d="M397.0 336.1L399.0 339.7L395.0 339.7Z" fill="#cc1830"/>
<path d="M414.9 328.0L416.9 331.6L412.9 331.6Z" fill="#cc1830"/>
<path d="M449.1 333.7L452.7 337.3M452.7 333.7L449.1 337.3" stroke="#d2f6f2" stroke-width="1.1" fill="none"/>
<path d="M467.0 318.3L470.6 321.9M470.6 318.3L467.0 321.9" stroke="#d2f6f2" stroke-width="1.1" fill="none"/>
<path d="M305.3 336.4L308.9 340.0M308.9 336.4L305.3 340.0" stroke="#4a2cb4" stroke-width="1.1" fill="none"/>
<path d="M359.2 336.4L362.8 340.0M362.8 336.4L359.2 340.0" stroke="#4a2cb4" stroke-width="1.1" fill="none"/>
<path d="M377.2 327.4L380.8 331.0M380.8 327.4L377.2 331.0" stroke="#4a2cb4" stroke-width="1.1" fill="none"/>
<path d="M395.2 254.5L398.8 258.1M398.8 254.5L395.2 258.1" stroke="#4a2cb4" stroke-width="1.1" fill="none"/>
<circle cx="325.1" cy="255.2" r="2.0" fill="#240404"/>
<circle cx="343.0" cy="285.4" r="2.0" fill="#240404"/>
<circle cx="361.0" cy="282.9" r="2.0" fill="#240404"/>
<circle cx="379.0" cy="313.1" r="2.0" fill="#240404"/>
<circle cx="432.9" cy="278.2" r="2.0" fill="#240404"/>
<path d="M334.70 327.60L336.50 327.60L336.50 333.00L337.00 333.00L335.60 335.40L334.20 333.00L334.70 333.00Z" fill="#7040c8"/>
<path d="M362.90 327.30L364.70 327.30L364.70 333.00L365.20 333.00L363.80 335.40L362.40 333.00L362.90 333.00Z" fill="#2030a8"/>
<path d="M369.90 327.60L371.70 327.60L371.70 332.60L372.20 332.60L370.80 335.00L369.40 332.60L369.90 332.60Z" fill="#8050d8"/>
<rect x="483.5" y="249.2" width="32.7" height="65.8" fill="#fff" stroke="#e6e6e6" stroke-width="1"/>
<line x1="486.2" y1="255.7" x2="499.3" y2="255.7" stroke="#50509c" stroke-width="0.9" stroke-opacity="0.8"/>
<path d="M492.5 253.9L494.2 255.7L492.5 257.4L490.8 255.7Z" fill="#10106a"/>
<text x="501.6" y="258.2" font-size="6.9" font-weight="normal" fill="#1a1a1a" stroke="#1a1a1a" stroke-width="0.35">P9</text>
<line x1="486.2" y1="266.4" x2="499.3" y2="266.4" stroke="#bc70e4" stroke-width="0.9" stroke-opacity="0.8"/>
<rect x="491.3" y="265.3" width="2.3" height="2.3" fill="#a030cc"/>
<text x="501.6" y="268.9" font-size="6.9" font-weight="normal" fill="#1a1a1a" stroke="#1a1a1a" stroke-width="0.35">P10</text>
<line x1="486.2" y1="277.2" x2="499.3" y2="277.2" stroke="#e04e4e" stroke-width="0.9" stroke-opacity="0.8"/>
<path d="M492.5 275.5L494.1 278.2L490.9 278.2Z" fill="#cc1830"/>
<text x="501.6" y="279.7" font-size="6.9" font-weight="normal" fill="#1a1a1a" stroke="#1a1a1a" stroke-width="0.35">P11</text>
<line x1="486.2" y1="287.9" x2="499.3" y2="287.9" stroke="#b8efe8" stroke-width="0.9" stroke-opacity="0.8"/>
<text x="501.6" y="290.4" font-size="6.9" font-weight="normal" fill="#1a1a1a" stroke="#1a1a1a" stroke-width="0.35">P12</text>
<line x1="486.2" y1="298.7" x2="499.3" y2="298.7" stroke="#8070e4" stroke-width="0.9" stroke-opacity="0.8"/>
<path d="M491.1 297.3L493.9 300.1M493.9 297.3L491.1 300.1" stroke="#4a2cb4" stroke-width="1.1" fill="none"/>
<text x="501.6" y="301.2" font-size="6.9" font-weight="normal" fill="#1a1a1a" stroke="#1a1a1a" stroke-width="0.35">P13</text>
<line x1="486.2" y1="309.4" x2="499.3" y2="309.4" stroke="#7a4646" stroke-width="0.9" stroke-opacity="0.8"/>
<circle cx="492.5" cy="309.4" r="1.6" fill="#240404"/>
<text x="501.6" y="311.9" font-size="6.9" font-weight="normal" fill="#1a1a1a" stroke="#1a1a1a" stroke-width="0.35">P14</text>
</g>
</svg>
</body></html>
